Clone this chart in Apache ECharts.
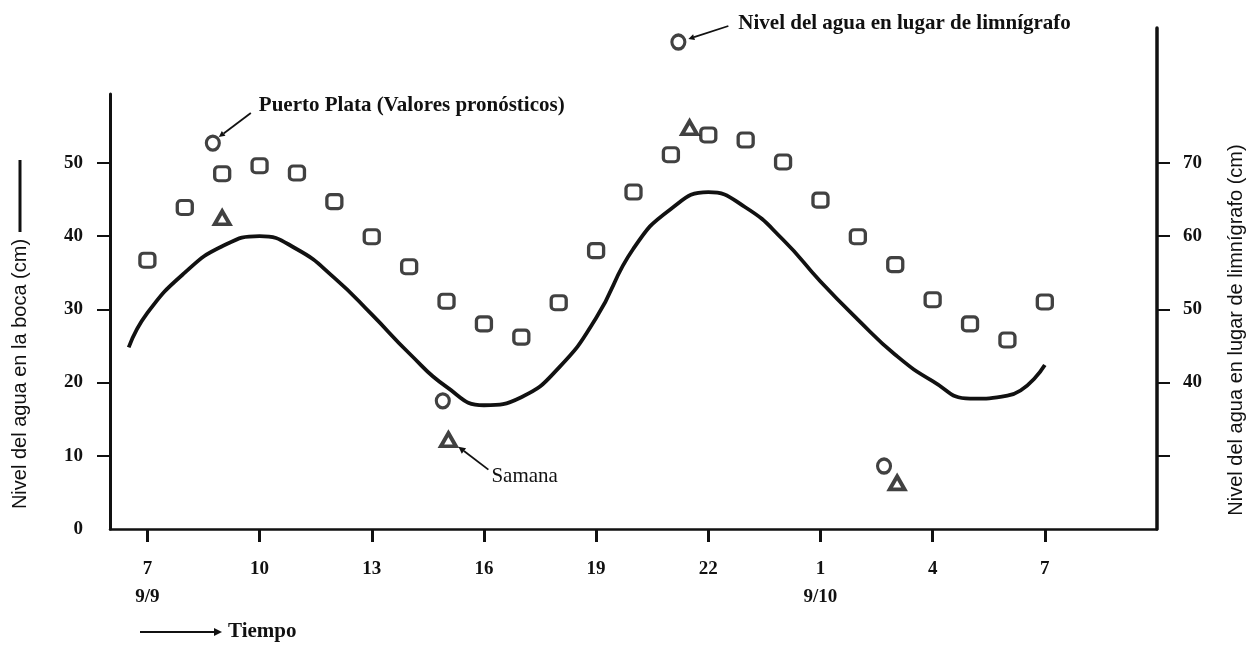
<!DOCTYPE html>
<html>
<head>
<meta charset="utf-8">
<script src="https://cdn.jsdelivr.net/npm/echarts@6/dist/echarts.min.js"></script>
<style>
  html, body { margin: 0; padding: 0; background: #fff; }
  #chart { width: 1251px; height: 655px; }
</style>
</head>
<body>
<div id="chart"></div>
<script>
// Time axis: hours counted from 07:00 on 9/9
const hourTicks  = [0, 3, 6, 9, 12, 15, 18, 21, 24];
const hourLabels = ['7', '10', '13', '16', '19', '22', '1', '4', '7'];
const dateLabels = ['9/9', '', '', '', '', '', '9/10', '', ''];

// Left axis ticks (water level at the mouth, cm)
const leftTicks  = [10, 20, 30, 40, 50];
const leftLabels = [0, 10, 20, 30, 40, 50];
// Right axis ticks (water level at the tide-gauge site, cm)
const rightTicks  = [30, 40, 50, 60, 70];
const rightLabels = [40, 50, 60, 70];

// Water level at the mouth (solid curve, left axis)
const mouthHours = [-0.5, 0, 1, 2, 3, 4, 5, 6, 7, 8, 9, 10, 11, 12, 13, 14, 15, 16, 17, 18, 19, 20, 21, 22, 23, 24];
const mouthLevel = [24.8, 29.5, 35.0, 38.6, 40.0, 38.2, 34.3, 29.3, 24.0, 19.4, 16.9, 18.0, 22.0, 28.8, 38.3, 43.7, 46.0, 43.9, 39.5, 33.8, 28.6, 23.8, 20.2, 17.8, 18.2, 22.4];

// Water level at the tide-gauge site (hourly squares, right axis)
const gaugeHours = [0, 1, 2, 3, 4, 5, 6, 7, 8, 9, 10, 11, 12, 13, 14, 15, 16, 17, 18, 19, 20, 21, 22, 23, 24];
const gaugeLevel = [56.7, 63.9, 68.5, 69.6, 68.6, 64.7, 59.9, 55.8, 51.1, 48.0, 46.2, 50.9, 58.0, 66.0, 71.1, 73.8, 73.1, 70.1, 64.9, 59.9, 56.1, 51.3, 48.0, 45.8, 51.0];

// Puerto Plata, forecast values (circles, left axis)
const plataHours = [1.75, 7.9, 14.2, 19.7];
const plataLevel = [52.7, 17.5, 66.5, 8.6];

// Samana (triangles, left axis)
const samanaHours = [2.0, 8.05, 14.5, 20.05];
const samanaLevel = [42.5, 12.2, 54.8, 6.3];

const zip = (xs, ys) => xs.map((x, i) => [x, ys[i]]);

const SERIF = '"Liberation Serif", "DejaVu Serif", serif';
const SANS = '"Liberation Sans", Arial, sans-serif';
const INK = '#111';

const chart = echarts.init(document.getElementById('chart'), null, { renderer: 'canvas' });

const xAxisCommon = { type: 'value', min: -1, max: 27, splitLine: { show: false } };

const option = {
  backgroundColor: '#fff',
  animation: false,
  grid: [
    { left: 110, right: 94, top: 94, bottom: 126 },
    { left: 110, right: 94, top: 28, bottom: 126 }
  ],
  xAxis: [
    Object.assign({}, xAxisCommon, {
      gridIndex: 0,
      axisLine: { onZero: false, lineStyle: { color: INK, width: 2.5 } },
      axisTick: { customValues: hourTicks, length: 13, lineStyle: { color: INK, width: 3 } },
      axisLabel: {
        customValues: hourTicks,
        margin: 26,
        color: INK,
        fontFamily: SERIF,
        fontWeight: 'bold',
        fontSize: 19,
        lineHeight: 28,
        formatter: function (v) {
          const i = hourTicks.indexOf(Math.round(v));
          if (i < 0) return '';
          return dateLabels[i] ? hourLabels[i] + '\n' + dateLabels[i] : hourLabels[i];
        }
      }
    }),
    Object.assign({}, xAxisCommon, { gridIndex: 1, show: false })
  ],
  yAxis: [
    {
      type: 'value', gridIndex: 0, position: 'left', min: 0, max: 59.4,
      splitLine: { show: false },
      axisLine: { show: true, onZero: false, lineStyle: { color: INK, width: 3 } },
      axisTick: { show: true, customValues: leftTicks, length: 13, lineStyle: { color: INK, width: 2 } },
      axisLabel: { customValues: leftLabels, margin: 27, color: INK, fontFamily: SERIF, fontWeight: 'bold', fontSize: 19 }
    },
    {
      type: 'value', gridIndex: 1, position: 'right', min: 20, max: 88.4,
      splitLine: { show: false },
      axisLine: { show: true, onZero: false, lineStyle: { color: INK, width: 3.5 } },
      axisTick: { show: true, customValues: rightTicks, length: 13, lineStyle: { color: INK, width: 2 } },
      axisLabel: { customValues: rightLabels, margin: 26, color: INK, fontFamily: SERIF, fontWeight: 'bold', fontSize: 19 }
    }
  ],
  series: [
    {
      name: 'Nivel del agua en la boca',
      type: 'line',
      xAxisIndex: 0, yAxisIndex: 0,
      data: zip(mouthHours, mouthLevel),
      smooth: 0.5,
      showSymbol: false,
      lineStyle: { color: INK, width: 3.8 },
      z: 3
    },
    {
      name: 'Nivel del agua en lugar de limnígrafo',
      type: 'scatter',
      xAxisIndex: 1, yAxisIndex: 1,
      data: zip(gaugeHours, gaugeLevel),
      symbol: 'roundRect',
      symbolSize: [15, 14],
      itemStyle: { color: '#fff', borderColor: INK, borderWidth: 3.2 },
      z: 4
    },
    {
      name: 'Puerto Plata (Valores pronósticos)',
      type: 'scatter',
      xAxisIndex: 0, yAxisIndex: 0,
      data: zip(plataHours, plataLevel),
      clip: false,
      symbol: 'circle',
      symbolSize: [13, 14],
      itemStyle: { color: '#fff', borderColor: INK, borderWidth: 3.2 },
      z: 4
    },
    {
      name: 'Samana',
      type: 'scatter',
      xAxisIndex: 0, yAxisIndex: 0,
      data: zip(samanaHours, samanaLevel),
      clip: false,
      symbol: 'triangle',
      symbolSize: [15, 13],
      itemStyle: { color: '#fff', borderColor: INK, borderWidth: 3.8 },
      z: 4
    }
  ]
};

chart.setOption(option);

// Annotations: leader arrows and notes placed next to the marks they describe
function arrow(x1, y1, x2, y2, head) {
  const ang = Math.atan2(y2 - y1, x2 - x1);
  const h = head || 7, w = h * 0.5;
  const bx = x2 - h * Math.cos(ang), by = y2 - h * Math.sin(ang);
  const nx = -Math.sin(ang) * w, ny = Math.cos(ang) * w;
  return [
    { type: 'line', shape: { x1: x1, y1: y1, x2: bx, y2: by }, style: { stroke: INK, lineWidth: 1.8 }, z: 10 },
    { type: 'polygon', shape: { points: [[x2, y2], [bx + nx, by + ny], [bx - nx, by - ny]] }, style: { fill: INK }, z: 10 }
  ];
}
function note(x, y, text, size, weight, family) {
  return {
    type: 'text', x: x, y: y, z: 10,
    style: { text: text, fill: INK, font: (weight || 'bold') + ' ' + (size || 17) + 'px ' + (family || SERIF), align: 'left', verticalAlign: 'middle' }
  };
}
function px(hours, level, i) {
  return chart.convertToPixel({ xAxisIndex: 0, yAxisIndex: 0 }, [hours[i], level[i]]);
}

const pPlata = px(plataHours, plataLevel, 0);
const pTop = px(plataHours, plataLevel, 2);
const pSamana = px(samanaHours, samanaLevel, 1);

const elements = [];
// Puerto Plata note
elements.push.apply(elements, arrow(pPlata[0] + 38, pPlata[1] - 30, pPlata[0] + 6, pPlata[1] - 6, 6));
elements.push(note(pPlata[0] + 46, pPlata[1] - 37, 'Puerto Plata (Valores pronósticos)', 21, 'bold'));
// Tide-gauge note at the top
elements.push.apply(elements, arrow(pTop[0] + 50, pTop[1] - 16, pTop[0] + 10, pTop[1] - 3, 6));
elements.push(note(pTop[0] + 60, pTop[1] - 18, 'Nivel del agua en lugar de limnígrafo', 21, 'bold'));
// Samana note
elements.push.apply(elements, arrow(pSamana[0] + 40, pSamana[1] + 30, pSamana[0] + 10, pSamana[1] + 7, 7));
elements.push(note(pSamana[0] + 43, pSamana[1] + 37, 'Samana', 21, 'normal'));
// Time direction
elements.push.apply(elements, arrow(140, 632, 222, 632, 8));
elements.push(note(228, 632, 'Tiempo', 21, 'bold'));
// Left axis title with its line key
elements.push({ type: 'line', shape: { x1: 20, y1: 160, x2: 20, y2: 232 }, style: { stroke: INK, lineWidth: 3 }, z: 10 });
elements.push({
  type: 'text', x: 20, y: 374, rotation: Math.PI / 2, z: 10,
  style: { text: 'Nivel del agua en la boca (cm)', fill: INK, font: 'normal 20px ' + SANS, align: 'center', verticalAlign: 'middle' }
});
// Right axis title
elements.push({
  type: 'text', x: 1236, y: 330, rotation: Math.PI / 2, z: 10,
  style: { text: 'Nivel del agua en lugar de limnígrafo (cm)', fill: INK, font: 'normal 20px ' + SANS, align: 'center', verticalAlign: 'middle' }
});

chart.setOption({ graphic: { elements: elements } });
</script>
</body>
</html>
